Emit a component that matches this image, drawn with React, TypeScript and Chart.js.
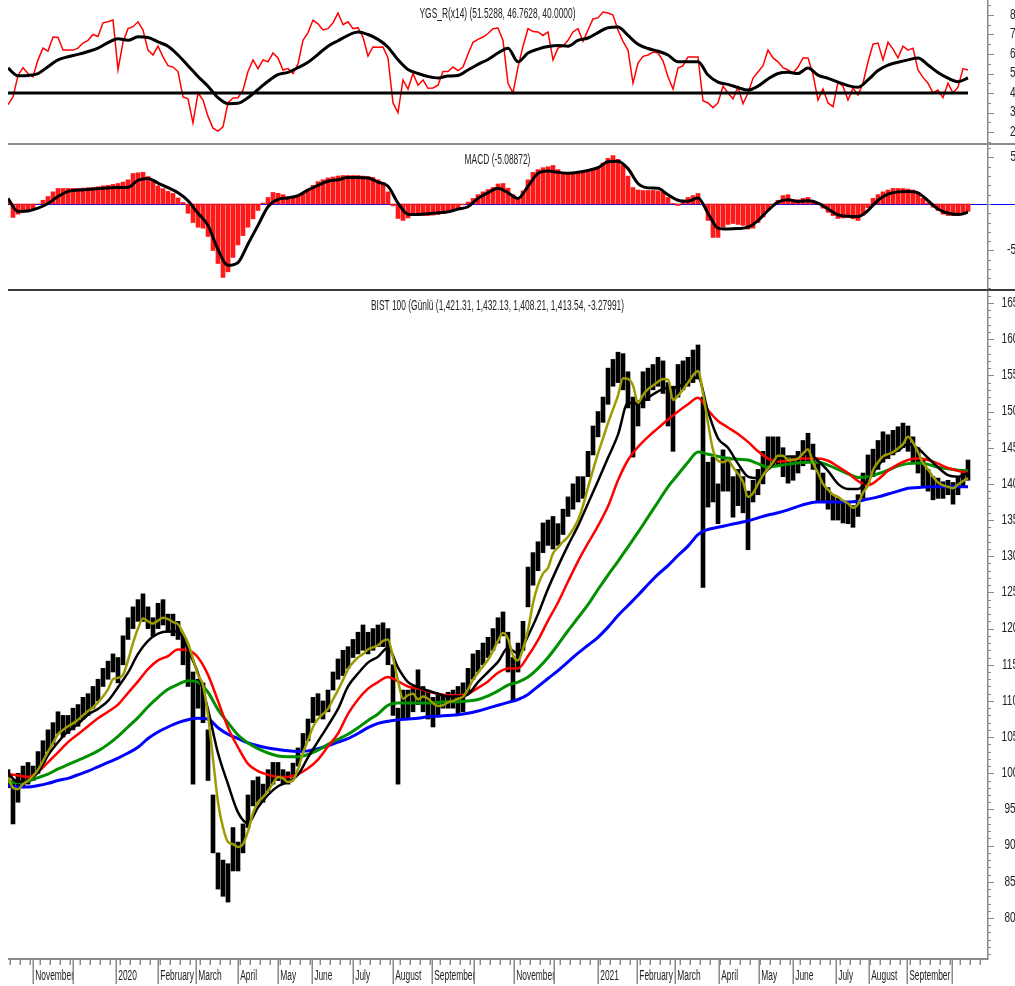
import React, { useEffect, useRef } from "react";
import { Chart, registerables } from "chart.js";

Chart.register(...registerables);

// ---------------- data ----------------
// Trading-day axis: fine samples every 2.5 trading days, coarse samples every 5.
const FINE_STEP = 2.5;
const COARSE_STEP = 5;
const X_MAX = 489.5;

const priceLow = [
  98, 93, 96, 98, 98.5, 99, 100, 101.5, 103, 104,
  105.5, 105, 105.5, 106, 106.5, 107.5, 108, 109, 110, 112,
  113, 114, 112.5, 115, 118.5, 120, 121, 121, 120, 119,
  120, 120.5, 119.5, 119, 118.5, 115, 112, 98.5, 109, 107,
  99, 89, 84, 83, 82.2, 86.5, 86.5, 89, 92.5, 95.5,
  96, 96, 97.5, 98.5, 99, 98.5, 98.5, 99.5, 101, 103,
  104.5, 107, 108, 107.5, 108.5, 111.5, 113, 113.5, 114.5, 116,
  116.5, 117, 116.5, 117, 117.5, 117.5, 115, 108, 98.5, 107.5,
  107.5, 108.5, 109.5, 108.5, 107.5, 106.4, 108, 109, 109, 109,
  108, 108.5, 111, 113, 114, 115, 116, 117, 118, 119,
  114, 110, 114, 117, 123, 126, 128, 130.5, 131.5, 131,
  131.5, 133, 135.5, 136.5, 137.5, 138, 141, 144, 146.5, 148.5,
  151, 153.5, 154, 153, 150.5, 143.7, 148, 150.5, 151.5, 153,
  153.5, 152.5, 148, 144.5, 152, 153, 153.5, 154, 154.5, 125.7,
  136.8, 137.5, 134.5, 139, 139, 135.4, 137, 136, 130.9, 137.5,
  138.5, 140, 142, 142.5, 142.5, 141, 140.1, 140.5, 141.5, 142.5,
  143, 142, 137.4, 137.5, 136.5, 135, 135, 134.6, 134.5, 134,
  135.5, 138, 140, 141, 142, 143, 143.5, 144, 144.5, 145,
  144.5, 143, 141.5, 139.5, 139, 137.8, 138, 138, 138.5, 137.2,
  138.5, 139.5, 140.5,
];
const priceHigh = [
  100.5, 99, 100, 101, 101.5, 101, 103, 104.5, 106, 107,
  108.5, 108, 108, 109, 109.5, 110.5, 111, 112, 113, 114.5,
  115.5, 116.5, 116, 119, 121.5, 123, 124, 124.8, 123, 121.5,
  123.5, 124, 122, 122, 121, 119, 117, 114, 113, 112.5,
  106, 97, 89, 88, 87.5, 92.5, 90.5, 93, 97, 99,
  99.5, 98.5, 100.5, 101.5, 101.5, 100.5, 100.2, 101.4, 103.5, 105.5,
  107.5, 110.5, 111, 110, 111.5, 114, 115.8, 117, 117.5, 118.5,
  119.5, 120.5, 119.5, 120, 120.5, 120.8, 120, 115, 109, 111.5,
  111.5, 112, 114.3, 112, 111.5, 110.5, 111, 110.8, 111.2, 111.5,
  112, 112.5, 114.5, 116.5, 117, 118, 118.8, 120, 121.5, 122.3,
  119.5, 116, 118, 121, 128.5, 130.5, 132, 134.6, 135, 135.5,
  134.5, 136.5, 138.2, 140, 141, 141, 144.5, 148, 150, 152,
  156, 157.2, 158.2, 158, 155.5, 152, 151.5, 155.5, 156, 156.5,
  157.5, 157, 154, 153.5, 156.5, 157, 157.5, 158.5, 159.2, 152,
  143, 143.7, 140, 144.7, 143.7, 141, 142, 141, 139, 140.5,
  142, 144.5, 146.5, 146.5, 146.5, 145, 143.5, 143.7, 144.5, 146,
  147, 145.5, 143, 141.5, 139.5, 138.5, 138, 137.4, 137.4, 137,
  138.5, 141.5, 144, 144.8, 146, 147.2, 146.8, 147.4, 147.9, 148.4,
  148, 146.5, 145, 143.5, 142, 141, 140.8, 140.3, 140.5, 140.2,
  141, 142, 143.3,
];
// short moving average (olive), fine samples
const maShort = [
  99.5, 98.0, 97.8, 98.5, 99.0, 99.6, 100.5, 101.7, 103.0, 104.2,
  105.4, 106.0, 106.5, 106.9, 107.4, 108.0, 108.6, 109.1, 109.8, 110.6,
  111.6, 113.0, 113.2, 113.6, 115.6, 118.0, 120.0, 121.4, 121.0, 120.7,
  121.1, 121.5, 121.3, 120.9, 120.6, 119.4, 118.0, 115.8, 113.6, 112.2,
  108.0, 102.0, 96.0, 92.5, 90.5, 90.2, 89.8, 90.2, 92.0, 94.5,
  96.0, 96.7, 97.6, 98.6, 99.5, 99.3, 98.8, 99.0, 100.6, 102.8,
  104.6, 106.4, 107.5, 108.2, 108.9, 110.2, 111.5, 112.9, 114.4, 115.3,
  116.0, 116.5, 117.1, 117.4, 117.7, 118.3, 118.5, 116.0, 112.8, 110.3,
  110.8, 111.0, 110.2, 110.6, 110.3, 109.7, 109.3, 109.4, 109.8, 110.0,
  110.3, 110.6, 111.6, 112.9, 113.9, 114.8, 115.7, 116.9, 118.3, 119.4,
  118.6, 116.3, 115.6, 117.2, 119.8, 123.5, 126.0, 127.6, 128.4, 130.4,
  131.2, 132.0, 132.7, 133.7, 135.0, 137.0, 139.5, 141.9, 144.2, 146.3,
  148.4, 150.3, 152.2, 154.6, 154.5, 153.6, 151.2, 152.3, 153.1, 153.6,
  154.1, 154.5, 154.4, 151.6, 152.2, 153.0, 154.0, 155.0, 155.6, 152.5,
  148.4, 144.7, 143.2, 143.0, 143.3, 142.3, 141.4, 140.3, 138.2, 138.7,
  140.0, 141.2, 142.1, 143.0, 143.9, 143.9, 143.3, 143.3, 143.5, 144.2,
  144.8, 142.9, 141.5, 140.0, 139.2, 138.5, 138.2, 137.7, 137.3, 136.7,
  137.2, 138.8, 139.8, 141.9, 143.0, 143.8, 144.1, 144.4, 144.9, 145.5,
  146.5, 145.7, 144.4, 142.9, 142.0, 141.0, 140.2, 139.8, 139.6, 139.4,
  139.9, 140.4, 140.8,
];
// coarse samples
const ma20 = [
  100.0, 98.8, 99.1, 100.1, 102.5, 104.3, 105.8, 106.8, 108.1, 108.9,
  110.0, 111.9, 113.9, 116.5, 118.3, 119.3, 119.6, 119.6, 117.1, 113.8,
  108.8, 102.8, 98.5, 94.6, 93.1, 95.3, 97.0, 98.2, 98.8, 99.8,
  102.2, 104.4, 106.6, 108.9, 112.0, 113.8, 115.3, 116.1, 117.4, 114.6,
  112.6, 111.9, 111.4, 111.0, 110.6, 110.6, 110.9, 112.6, 114.0, 115.4,
  117.3, 116.6, 119.0, 122.0, 125.5, 128.6, 131.5, 134.2, 137.3, 140.4,
  143.6, 146.8, 151.2, 151.1, 151.9, 152.8, 153.3, 153.4, 154.3, 154.7,
  150.0, 146.3, 145.0, 142.8, 141.0, 140.8, 142.0, 143.4, 143.8, 143.8,
  144.2, 143.2, 141.8, 140.0, 139.3, 139.3, 140.6, 142.5, 144.0, 144.6,
  145.5, 144.9, 143.6, 142.3, 141.2, 141.0, 141.5,
];
const ma50 = [
  99.9, 99.7, 99.5, 100.2, 101.5, 102.9, 104.3, 105.4, 106.5, 107.6,
  108.5, 109.5, 111.1, 112.7, 114.4, 115.6, 116.2, 117.1, 117.0, 116.0,
  113.6, 110.0, 106.3, 103.6, 101.3, 100.3, 99.8, 99.5, 99.5, 99.9,
  100.7, 101.9, 103.7, 105.5, 108.2, 110.2, 111.7, 112.6, 113.3, 112.7,
  112.0, 111.7, 111.3, 111.0, 110.8, 110.8, 111.0, 111.8, 112.7, 113.9,
  114.5, 114.5, 116.2, 118.4, 121.1, 123.6, 126.5, 129.3, 131.8, 134.2,
  136.9, 140.5, 143.3, 145.1, 146.5, 147.7, 148.9, 150.0, 151.0, 151.9,
  150.2, 148.7, 147.8, 146.9, 145.8, 144.5, 143.5, 143.1, 143.2, 143.5,
  143.5, 143.5, 143.2, 142.4, 141.5, 140.4, 139.8, 140.6, 141.8, 142.7,
  143.3, 143.5, 143.3, 142.8, 142.2, 141.8, 141.5,
];
const ma100 = [
  98.8, 98.7, 98.9, 99.4, 99.9, 100.6, 101.2, 101.8, 102.4, 103.1,
  104.0, 105.1, 106.4, 107.7, 109.2, 110.5, 111.6, 112.3, 112.8, 112.6,
  111.2, 108.8, 107.0, 105.3, 104.2, 103.4, 102.8, 102.4, 102.3, 102.3,
  102.6, 103.2, 104.0, 104.7, 105.4, 106.3, 107.3, 108.2, 109.4, 109.7,
  109.7, 109.7, 109.7, 109.8, 109.9, 109.9, 110.0, 110.2, 110.7, 111.4,
  112.2, 112.6, 113.3, 114.5, 116.0, 117.8, 119.7, 121.5, 123.3, 125.4,
  127.4, 129.3, 131.3, 133.3, 135.4, 137.5, 139.6, 141.3, 143.0, 144.4,
  144.1, 143.8, 143.5, 143.4, 143.3, 142.8, 142.3, 142.5, 142.7, 142.9,
  143.0, 143.0, 142.6, 142.0, 141.4, 140.9, 141.0, 141.4, 141.9, 142.5,
  142.8, 142.9, 142.7, 142.3, 142.1, 141.9, 141.8,
];
const ma200 = [
  98.3, 98.1, 98.1, 98.3, 98.6, 99.0, 99.3, 99.8, 100.3, 100.9,
  101.5, 102.1, 102.8, 103.6, 104.8, 105.7, 106.4, 107.0, 107.4, 107.6,
  107.5, 106.3, 105.4, 104.8, 104.2, 103.8, 103.5, 103.3, 103.1, 103.0,
  103.1, 103.4, 103.8, 104.3, 104.8, 105.5, 106.3, 106.9, 107.2, 107.4,
  107.5, 107.6, 107.8, 107.9, 108.0, 108.1, 108.3, 108.6, 109.0, 109.4,
  109.8, 110.2, 110.9, 112.0, 113.1, 114.2, 115.4, 116.6, 117.7, 118.8,
  120.2, 121.8, 123.2, 124.6, 126.1, 127.5, 128.7, 130.1, 131.4, 133.0,
  133.7, 134.0, 134.3, 134.6, 134.9, 135.3, 135.7, 136.0, 136.4, 136.9,
  137.3, 137.5, 137.5, 137.5, 137.5, 137.6, 137.9, 138.2, 138.6, 139.0,
  139.4, 139.5, 139.6, 139.6, 139.6, 139.6, 139.6,
];
// YGS_R oscillator (fine) and its average (coarse)
const ygsR = [
  34, 38, 49, 53, 50, 48.3, 57, 63, 61.5, 68.7,
  68.5, 62, 62, 62, 63, 65.6, 67, 70, 69, 76,
  76.5, 77.4, 52, 66, 73, 74, 76.5, 72.3, 62, 59.5,
  64, 58.5, 54, 53.3, 51, 38, 37, 24.6, 40, 36.4,
  28, 22, 20.5, 22.6, 35, 37.4, 37.6, 41.5, 51, 57,
  52.5, 57, 56, 60.5, 58, 51.8, 52.5, 50, 55, 67,
  71, 77.4, 75.5, 72.3, 73, 76, 81, 75, 76.5, 73,
  73.5, 68.7, 59, 63.6, 63.5, 63.6, 58, 34.9, 30, 46.7,
  42, 50, 44, 46.7, 42.5, 42.6, 44, 51, 51, 53.3,
  51.5, 53.3, 60, 66, 67.5, 68.7, 70.5, 73, 73.3, 67,
  45, 40, 53.3, 64, 73, 71.5, 71.3, 69.5, 71.3, 57,
  63, 64, 67, 71.3, 73, 66.5, 72.3, 78, 78.5, 81.5,
  81, 80, 72.3, 66.5, 62, 45, 55.4, 58.8, 59.5, 61,
  60.5, 56.5, 48.3, 42, 52.8, 54, 58.5, 58.5, 58.5, 36,
  34.9, 32.5, 34.9, 43.5, 40, 37, 43, 34.5, 40, 47.5,
  50.8, 54, 62, 58, 56, 53, 51.8, 50.3, 53.3, 58,
  58, 49.5, 36.4, 42, 34.9, 33, 45.6, 43.5, 36.4, 42.5,
  39, 45, 56, 65, 65.6, 57, 66, 62.5, 58, 64,
  62, 63, 51.8, 48, 45, 40, 41.5, 37.6, 45, 40,
  43, 52.5, 51.8,
];
const ygsAvg = [
  52.8, 48.8, 49.0, 50.0, 53.5, 57.0, 58.6, 59.8, 61.3, 63.0,
  65.8, 67.8, 67.0, 68.8, 68.5, 66.2, 64.0, 59.5, 54.0, 48.5,
  43.5, 37.6, 34.5, 34.7, 37.6, 41.8, 46.0, 49.4, 50.6, 53.0,
  55.8, 59.8, 64.0, 66.8, 69.6, 71.3, 70.0, 67.5, 63.5, 57.0,
  52.0, 50.0, 48.5, 47.7, 48.7, 49.0, 51.8, 54.7, 57.2, 60.5,
  63.0, 56.0, 60.5, 62.5, 63.8, 64.4, 64.0, 67.0, 68.2, 71.0,
  73.5, 73.8, 69.5, 65.0, 62.8, 61.5, 59.5, 56.0, 56.0, 56.0,
  49.2, 45.6, 44.4, 42.8, 41.5, 43.5, 47.2, 50.0, 50.6, 50.0,
  52.8, 49.2, 47.5, 45.6, 43.8, 43.0, 46.7, 51.5, 54.3, 55.8,
  57.0, 58.0, 54.4, 50.5, 47.6, 45.8, 47.7,
];
const ygsLevel = 40;
// MACD histogram (fine) and signal (coarse)
const macdHist = [
  0.3, -1.45, -1.1, -0.9, -0.7, -0.5, 0, 0.4, 0.8, 1.3,
  1.67, 1.67, 1.67, 1.67, 1.67, 1.7, 1.75, 1.77, 1.85, 1.95,
  2.0, 2.1, 2.2, 2.35, 2.6, 3.28, 3.35, 3.4, 2.95, 2.45,
  1.95, 1.65, 1.35, 1.13, 0.65, 0.16, -1.0, -2.0, -2.5, -2.6,
  -3.5, -5.0, -6.4, -7.9, -7.3, -5.75, -4.4, -3.4, -2.5, -1.6,
  -0.7, 0.1, 0.7, 1.24, 1.15, 1.0, 0.8, 0.75, 0.85, 1.15,
  1.6, 2.0, 2.4, 2.6, 2.8, 2.9, 3.0, 3.06, 3.06, 3.06,
  3.06, 3.0, 2.95, 2.85, 2.6, 2.3, 1.3, -0.2, -1.56, -1.77,
  -1.5, -1.24, -1.24, -1.24, -1.24, -1.2, -1.13, -1.0, -0.85, -0.7,
  -0.4, -0.1, 0.2, 0.6, 1.0, 1.3, 1.55, 1.77, 2.15, 2.2,
  1.7, 1.0, 0.6, 1.4, 2.6, 3.4, 3.7, 3.9, 4.0, 4.14,
  3.7, 3.4, 3.3, 3.28, 3.4, 3.5, 3.6, 3.75, 3.9, 4.4,
  4.9, 5.2, 4.8, 4.2, 3.0, 1.77, 1.5, 1.45, 1.45, 1.45,
  1.4, 1.3, 0.7, 0.05, -0.16, 0.3, 0.7, 0.9, 1.13, 0,
  -1.77, -3.6, -3.6, -2.5, -2.2, -2.1, -2.2, -2.3, -2.7, -2.6,
  -2.0, -1.4, -0.7, -0.1, 0.4, 0.9, 1.0, 0.5, 0.45, 0.6,
  0.7, 0.35, 0, -0.45, -0.9, -1.25, -1.56, -1.5, -1.45, -1.6,
  -1.77, -1.2, -0.4, 0.6, 1.0, 1.3, 1.5, 1.67, 1.67, 1.67,
  1.6, 1.5, 1.2, 0.6, 0.1, -0.35, -0.7, -1.1, -1.24, -1.24,
  -1.1, -0.9, -0.8,
];
const macdSignal = [
  0.6, -0.8, -0.75, -0.45, 0.05, 0.8, 1.35, 1.5, 1.56, 1.65,
  1.72, 1.77, 1.8, 2.55, 2.75, 2.25, 1.75, 1.2, 0.35, -1.0,
  -2.3, -4.9, -6.6, -6.3, -4.3, -2.3, -0.3, 0.5, 0.65, 0.9,
  1.5, 2.0, 2.45, 2.6, 2.85, 2.85, 2.8, 2.35, 1.9, 0.1,
  -1.1, -1.13, -1.05, -0.95, -0.85, -0.55, -0.3, 0.6, 1.2, 1.7,
  1.2, 0.6, 1.9, 3.3, 3.55, 3.4, 3.3, 3.4, 3.6, 3.9,
  4.55, 4.6, 3.8, 2.2, 1.73, 1.68, 1.0, 0.4, 0.3, 0.65,
  -1.0, -2.6, -2.7, -2.65, -2.5, -1.8, -0.7, 0.2, 0.45, 0.27,
  0.35, 0.1, -0.55, -1.18, -1.33, -1.35, -0.7, 0.4, 1.05, 1.3,
  1.35, 1.2, 0.35, -0.55, -1.0, -1.13, -0.9,
];
// x axis: first trading day of each month (day index) and its label
const monthStartDays = [
  12.5, 32.5, 54, 75, 94, 115, 135, 152, 172.5, 192.5, 212, 233,
  253, 273, 295, 314.5, 333.5, 355.5, 375.5, 392.5, 414, 430.5, 449.5, 472,
];
const monthLabels = [
  "November", "", "2020", "February", "March", "April", "May", "June", "July", "August", "September", "",
  "November", "", "2021", "February", "March", "April", "May", "June", "July", "August", "September", "",
];
const priceTickLabels = [80, 85, 90, 95, 100, 105, 110, 115, 120, 125, 130, 135, 140, 145, 150, 155, 160, 165];
const ygsTickLabels = [20, 30, 40, 50, 60, 70, 80];
const macdTickLabels = [-5, 5];

const TITLE_YGS = "YGS_R(x14) (51.5288, 46.7628, 40.0000)";
const TITLE_MACD = "MACD (-5.08872)";
const TITLE_PRICE = "BIST 100 (Günlü (1,421.31, 1,432.13, 1,408.21, 1,413.54, -3.27991)";

// ---------------- helpers ----------------
const FONT = "'Liberation Sans', Arial, sans-serif";
const fine = (arr: number[]) => arr.map((y, i) => ({ x: i * FINE_STEP, y }));
const coarse = (arr: number[]) => arr.map((y, i) => ({ x: i * COARSE_STEP, y }));

function drawText(ctx: CanvasRenderingContext2D, s: string, x: number, y: number, size: number, sx: number, align: "left" | "center" | "right") {
  ctx.save();
  ctx.font = `${size}px ${FONT}`;
  ctx.textBaseline = "middle";
  ctx.textAlign = "left";
  ctx.fillStyle = "#222";
  const w = ctx.measureText(s).width * sx;
  const x0 = align === "left" ? x : align === "center" ? x - w / 2 : x - w;
  ctx.translate(x0, y);
  ctx.scale(sx, 1);
  ctx.fillText(s, 0, 0);
  ctx.restore();
}
function seg(ctx: CanvasRenderingContext2D, x1: number, y1: number, x2: number, y2: number) {
  ctx.beginPath();
  ctx.moveTo(x1, y1);
  ctx.lineTo(x2, y2);
  ctx.stroke();
}
function rightAxis(chart: any, minor: number[], major: number[], label: (v: number) => void) {
  const { ctx, chartArea: a, scales } = chart;
  const y = scales.y;
  ctx.save();
  ctx.strokeStyle = "#8a8a8a";
  ctx.lineWidth = 1.5;
  seg(ctx, a.right + 0.75, 0, a.right + 0.75, a.bottom + 1);
  ctx.lineWidth = 1;
  minor.forEach((v) => {
    const py = Math.round(y.getPixelForValue(v)) + 0.5;
    seg(ctx, a.right + 1, py, a.right + 4, py);
  });
  major.forEach((v) => {
    const py = Math.round(y.getPixelForValue(v)) + 0.5;
    seg(ctx, a.right + 1, py, a.right + 7, py);
    label(v);
  });
  ctx.restore();
}
function range(a: number, b: number, s: number) {
  const out: number[] = [];
  for (let v = a; v <= b + 1e-9; v += s) out.push(v);
  return out;
}

const baseOptions = (pad: any, yMin: number, yMax: number) => ({
  responsive: false,
  animation: false as const,
  devicePixelRatio: 1,
  events: [] as any[],
  layout: { padding: pad },
  plugins: { legend: { display: false }, tooltip: { enabled: false }, title: { display: false } },
  scales: {
    x: { type: "linear" as const, min: 0, max: X_MAX, display: false, offset: false },
    y: { type: "linear" as const, min: yMin, max: yMax, display: false, beginAtZero: false },
  },
});

function useChart(ref: React.RefObject<HTMLCanvasElement>, make: (c: HTMLCanvasElement) => Chart) {
  useEffect(() => {
    if (!ref.current) return;
    const ch = make(ref.current);
    return () => ch.destroy();
  }, []);
}

// ---------------- component ----------------
export default function App() {
  const topRef = useRef<HTMLCanvasElement>(null);
  const macdRef = useRef<HTMLCanvasElement>(null);
  const mainRef = useRef<HTMLCanvasElement>(null);

  useChart(topRef, (c) =>
    new Chart(c, {
      type: "line",
      data: {
        datasets: [
          { data: fine(ygsR), borderColor: "#ff0000", borderWidth: 1.5, pointRadius: 0, tension: 0, order: 3 },
          { data: coarse(ygsAvg), borderColor: "#000", borderWidth: 3, pointRadius: 0, cubicInterpolationMode: "monotone", order: 2 },
          {
            data: [
              { x: 0, y: ygsLevel },
              { x: (ygsR.length - 1) * FINE_STEP, y: ygsLevel },
            ],
            borderColor: "#000",
            borderWidth: 3,
            pointRadius: 0,
            order: 1,
          },
        ],
      },
      options: baseOptions({ left: 8, right: 28, top: 0, bottom: 1 }, 13.85, 87.69) as any,
      plugins: [
        {
          id: "ygsFrame",
          afterDraw(chart: any) {
            const { ctx, chartArea: a } = chart;
            rightAxis(chart, range(15, 85, 5), ygsTickLabels, (v) =>
              drawText(ctx, String(v), a.right + 23, chart.scales.y.getPixelForValue(v), 14, 0.72, "left")
            );
            ctx.save();
            ctx.strokeStyle = "#8c8c8c";
            ctx.lineWidth = 2;
            seg(ctx, a.left, chart.height - 1, chart.width, chart.height - 1);
            ctx.restore();
            drawText(ctx, TITLE_YGS, (a.left + a.right) / 2, 14, 14, 0.6, "center");
          },
        },
      ],
    })
  );

  useChart(macdRef, (c) =>
    new Chart(c, {
      type: "bar",
      data: {
        datasets: [
          { type: "bar", data: fine(macdHist) as any, backgroundColor: "#ff1a1a", barThickness: 4, borderWidth: 0, order: 2 },
          { type: "line", data: coarse(macdSignal) as any, borderColor: "#000", borderWidth: 3, pointRadius: 0, cubicInterpolationMode: "monotone", order: 1 },
        ],
      },
      options: baseOptions({ left: 8, right: 28, top: 0, bottom: 1 }, -9.25, 6.34) as any,
      plugins: [
        {
          id: "macdZero",
          beforeDatasetsDraw(chart: any) {
            const { ctx, chartArea: a } = chart;
            const py = Math.round(chart.scales.y.getPixelForValue(0)) + 0.5;
            ctx.save();
            ctx.strokeStyle = "#0000ff";
            ctx.lineWidth = 1;
            seg(ctx, a.left, py, chart.width, py);
            ctx.restore();
          },
          afterDraw(chart: any) {
            const { ctx, chartArea: a } = chart;
            rightAxis(chart, range(-9, 6, 1), macdTickLabels, (v) =>
              drawText(ctx, String(v), a.right + 29, chart.scales.y.getPixelForValue(v), 14, 0.72, "right")
            );
            ctx.save();
            ctx.strokeStyle = "#3c3c3c";
            ctx.lineWidth = 2;
            seg(ctx, a.left, chart.height - 1, chart.width, chart.height - 1);
            ctx.restore();
            drawText(ctx, TITLE_MACD, (a.left + a.right) / 2, 15.5, 14, 0.6, "center");
          },
        },
      ],
    })
  );

  useChart(mainRef, (c) => {
    const bars = priceLow.map((lo, i) => ({ x: i * FINE_STEP, y: [lo, priceHigh[i]] }));
    return new Chart(c, {
      type: "bar",
      data: {
        datasets: [
          { type: "bar", data: bars as any, backgroundColor: "#000", barThickness: 4, borderWidth: 0, order: 10 },
          { type: "line", data: coarse(ma200) as any, borderColor: "#0000ff", borderWidth: 3, pointRadius: 0, cubicInterpolationMode: "monotone", order: 5 },
          { type: "line", data: coarse(ma100) as any, borderColor: "#009000", borderWidth: 3, pointRadius: 0, cubicInterpolationMode: "monotone", order: 4 },
          { type: "line", data: coarse(ma50) as any, borderColor: "#ff0000", borderWidth: 2.5, pointRadius: 0, cubicInterpolationMode: "monotone", order: 3 },
          { type: "line", data: coarse(ma20) as any, borderColor: "#000", borderWidth: 2.5, pointRadius: 0, cubicInterpolationMode: "monotone", order: 2 },
          { type: "line", data: fine(maShort) as any, borderColor: "#9c9c00", borderWidth: 2.5, pointRadius: 0, cubicInterpolationMode: "monotone", order: 1 },
        ],
      },
      options: baseOptions({ left: 8, right: 28, top: 0, bottom: 28 }, 74.47, 166.66) as any,
      plugins: [
        {
          id: "mainFrame",
          afterDraw(chart: any) {
            const { ctx, chartArea: a, scales } = chart;
            rightAxis(chart, range(75, 166, 1), priceTickLabels, (v) =>
              drawText(ctx, String(v), a.right + 23, scales.y.getPixelForValue(v), 14, 0.72, "center")
            );
            ctx.save();
            ctx.strokeStyle = "#8a8a8a";
            ctx.lineWidth = 2;
            seg(ctx, a.left, a.bottom + 1, a.right + 1.5, a.bottom + 1);
            ctx.lineWidth = 1.5;
            range(1, X_MAX - 2, 5).forEach((d) => {
              const px = Math.round(scales.x.getPixelForValue(d)) + 0.25;
              seg(ctx, px, a.bottom + 1, px, a.bottom + 7);
            });
            monthStartDays.forEach((d, i) => {
              const px = Math.round(scales.x.getPixelForValue(d)) + 0.25;
              seg(ctx, px, a.bottom + 1, px, chart.height - 2);
              if (monthLabels[i]) drawText(ctx, monthLabels[i], px + 2, a.bottom + 18, 14, 0.6, "left");
            });
            ctx.restore();
            drawText(ctx, TITLE_PRICE, (a.left + a.right) / 2, 15, 14, 0.6, "center");
          },
        },
      ],
    });
  });

  return (
    <div style={{ position: "absolute", left: 0, top: 0, width: 1015, height: 986, background: "#fff", overflow: "hidden" }}>
      <canvas ref={topRef} width={1015} height={145} style={{ position: "absolute", left: 0, top: 0 }} />
      <canvas ref={macdRef} width={1015} height={146} style={{ position: "absolute", left: 0, top: 145 }} />
      <canvas ref={mainRef} width={1015} height={695} style={{ position: "absolute", left: 0, top: 291 }} />
    </div>
  );
}
